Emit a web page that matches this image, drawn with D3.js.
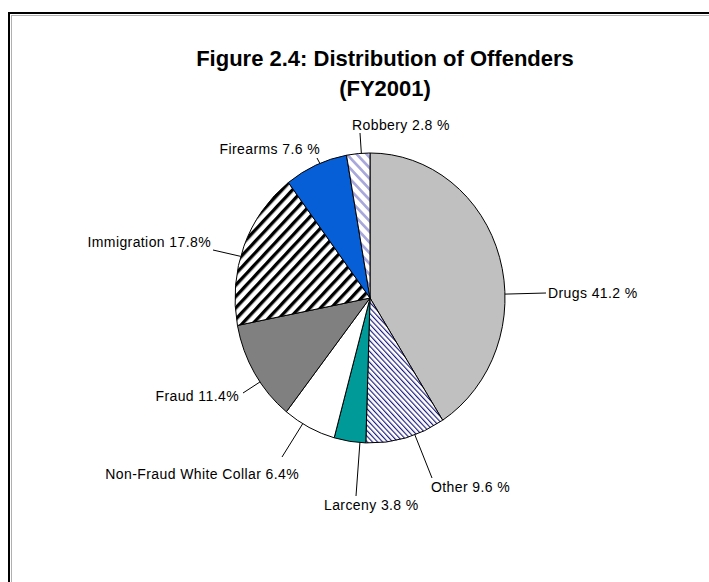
<!DOCTYPE html>
<html>
<head>
<meta charset="utf-8">
<script src="https://cdn.jsdelivr.net/npm/d3@7"></script>
<style>
  body { margin: 0; background: #fff; }
  text { font-family: "Liberation Sans", Arial, sans-serif; }
</style>
</head>
<body>
<div id="figure_area"></div>
<script>
// ----- ----- ----- ----- ----- ----- ----- ----- -----
// DATA
var categories = ["Drugs", "Other", "Larceny", "Non-Fraud White Collar", "Fraud", "Immigration", "Firearms", "Robbery"];
var shares = [41.2, 9.6, 3.8, 6.4, 11.4, 17.8, 7.6, 2.8];
var shareLabels = ["41.2 %", "9.6 %", "3.8 %", "6.4%", "11.4%", "17.8%", "7.6 %", "2.8 %"];

// fills, in the same order as categories
var fills = ["#c0c0c0", "url(#hatchOther)", "#009b98", "#ffffff", "#808080", "url(#hatchImmigration)", "#065fd6", "url(#hatchRobbery)"];

// label placement (layout only): text anchor point, and where the leader starts
var labelLayout = [
    { x: 548, y: 298, anchor: "start", lx: 546, ly: 293 },
    { x: 431, y: 492, anchor: "start", lx: 432, ly: 478 },
    { x: 324, y: 510, anchor: "start", lx: 356, ly: 496 },
    { x: 299, y: 479, anchor: "end",   lx: 282, ly: 457 },
    { x: 239, y: 401, anchor: "end",   lx: 243, ly: 393 },
    { x: 211, y: 247, anchor: "end",   lx: 213, ly: 250 },
    { x: 320, y: 154, anchor: "end",   lx: 317, ly: 158 },
    { x: 352, y: 130, anchor: "start", lx: 360, ly: 133 }
];

const figure_size = { width: 709, height: 582 };
const pie_geom = { cx: 370, cy: 298, r: 135, ky: 145 / 135 };

var svg = d3.select("#figure_area")
    .append("svg")
    .attr("width", figure_size.width)
    .attr("height", figure_size.height);

// ----- ----- ----- ----- ----- ----- ----- ----- -----
// PATTERNS
var defs = svg.append("defs");
function addHatch(id, color, gap, width, angle) {
    var p = defs.append("pattern")
        .attr("id", id)
        .attr("patternUnits", "userSpaceOnUse")
        .attr("width", gap)
        .attr("height", gap)
        .attr("patternTransform", "rotate(" + angle + ")");
    p.append("rect").attr("width", gap).attr("height", gap).attr("fill", "#fff");
    p.append("rect").attr("x", 0).attr("y", 0).attr("width", width).attr("height", gap).attr("fill", color);
}
addHatch("hatchOther", "#1a1a80", 3.6, 1.1, -45);
addHatch("hatchImmigration", "#000000", 7.5, 3.2, 45);
addHatch("hatchRobbery", "#a8a8dc", 7, 2.6, -45);

// ----- ----- ----- ----- ----- ----- ----- ----- -----
// FRAME
svg.append("rect")
    .attr("x", 9).attr("y", 13)
    .attr("width", 900).attr("height", 900)
    .attr("fill", "none")
    .attr("stroke", "#000")
    .attr("stroke-width", 2);
svg.append("rect")
    .attr("x", 11.5).attr("y", 15.5)
    .attr("width", 900).attr("height", 900)
    .attr("fill", "none")
    .attr("stroke", "#b0b0b0")
    .attr("stroke-width", 1);

// TITLE
svg.append("text")
    .attr("x", 385).attr("y", 66)
    .attr("text-anchor", "middle")
    .attr("font-weight", "bold")
    .attr("font-size", 22)
    .text("Figure 2.4: Distribution of Offenders");
svg.append("text")
    .attr("x", 385).attr("y", 96)
    .attr("text-anchor", "middle")
    .attr("font-weight", "bold")
    .attr("font-size", 22)
    .text("(FY2001)");

// ----- ----- ----- ----- ----- ----- ----- ----- -----
// PIE
var pie = d3.pie().sort(null).value(function (d) { return d; });
var arcs = pie(shares);
var arc = d3.arc().innerRadius(0).outerRadius(pie_geom.r);

var g = svg.append("g")
    .attr("transform", "translate(" + pie_geom.cx + "," + pie_geom.cy + ") scale(1," + pie_geom.ky + ")");

g.selectAll("path")
    .data(arcs)
    .enter()
    .append("path")
    .attr("d", arc)
    .attr("fill", function (d, i) { return fills[i]; })
    .attr("stroke", "#000")
    .attr("stroke-width", 1)
    .attr("vector-effect", "non-scaling-stroke");

// point on the (squashed) outline at angle a
function edgePoint(a) {
    return [pie_geom.cx + pie_geom.r * Math.sin(a), pie_geom.cy - pie_geom.r * pie_geom.ky * Math.cos(a)];
}
// closest outline point of a slice to the leader start
function nearestEdge(d, px, py) {
    var best = null, bestDist = Infinity;
    for (var k = 0; k <= 60; k++) {
        var a = d.startAngle + (d.endAngle - d.startAngle) * k / 60;
        var p = edgePoint(a);
        var dist = (p[0] - px) * (p[0] - px) + (p[1] - py) * (p[1] - py);
        if (dist < bestDist) { bestDist = dist; best = p; }
    }
    return best;
}

// leaders
arcs.forEach(function (d, i) {
    var L = labelLayout[i];
    var e = nearestEdge(d, L.lx, L.ly);
    svg.append("line")
        .attr("x1", L.lx).attr("y1", L.ly)
        .attr("x2", e[0]).attr("y2", e[1])
        .attr("stroke", "#000")
        .attr("stroke-width", 1);
});

// labels
svg.selectAll("text.slice-label")
    .data(arcs)
    .enter()
    .append("text")
    .attr("class", "slice-label")
    .attr("x", function (d, i) { return labelLayout[i].x; })
    .attr("y", function (d, i) { return labelLayout[i].y; })
    .attr("text-anchor", function (d, i) { return labelLayout[i].anchor; })
    .attr("font-size", 14)
    .attr("letter-spacing", 0.4)
    .attr("fill", "#000")
    .text(function (d, i) { return categories[i] + " " + shareLabels[i]; });
</script>
</body>
</html>
